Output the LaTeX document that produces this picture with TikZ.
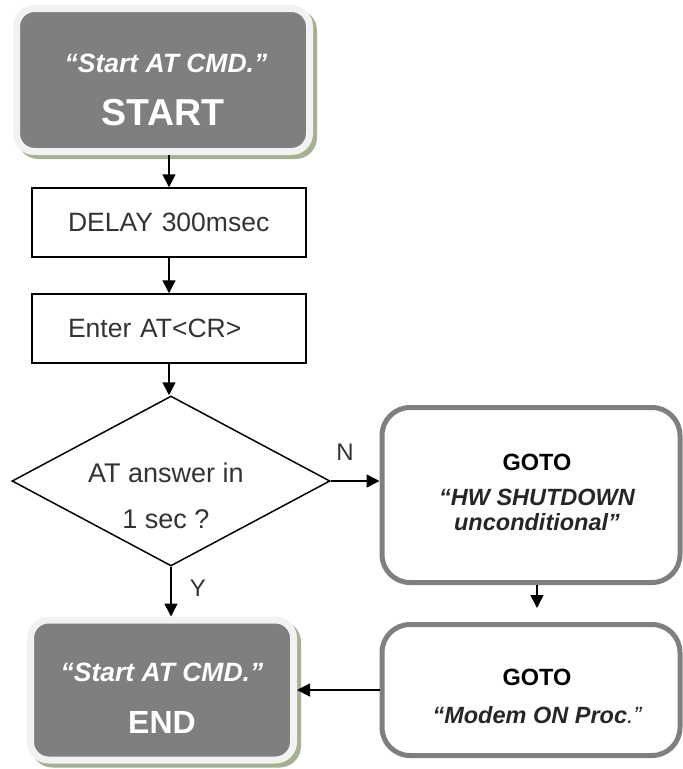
\documentclass[tikz,border=0pt]{standalone}
\usepackage{fontspec}
\setmainfont{Liberation Sans}
\usetikzlibrary{shapes.geometric,arrows.meta,calc}
\definecolor{boxgray}{RGB}{127,127,127}
\definecolor{rimcol}{RGB}{242,242,242}
\definecolor{shadowol}{RGB}{166,176,146}
\definecolor{txtgray}{RGB}{51,51,51}
\begin{document}
\begin{tikzpicture}[x=1pt,y=-1pt,
  term/.style={rectangle, rounded corners=18pt, fill=boxgray, draw=rimcol, line width=7pt,
    inner sep=0pt,
    preaction={fill=shadowol, draw=shadowol, line width=7pt, transform canvas={shift={(4pt,-4pt)}}}},
  proc/.style={rectangle, draw=black, line width=1.5pt, inner xsep=36pt, inner ysep=0pt,
    minimum height=69pt, text width=202pt, align=left, text=txtgray,
    font=\fontsize{26.5}{30}\selectfont},
  decis/.style={diamond, draw=black, line width=1.5pt, inner sep=0pt, aspect=1.87,
    minimum width=318pt, minimum height=170pt},
  gotobox/.style={rectangle, rounded corners=28pt, draw=boxgray, line width=5pt, inner sep=0pt},
  flow/.style={line width=1.5pt, -{Triangle[length=13pt,width=13pt]}},
  wtitle/.style={text=white, font=\fontsize{26.5}{30}\selectfont\bfseries\itshape},
  dtxt/.style={text=txtgray, font=\fontsize{27}{30}\selectfont},
  gbold/.style={text=black, font=\fontsize{23.5}{28}\selectfont\bfseries},
  gital/.style={text=black!85, font=\fontsize{23.5}{28}\selectfont\bfseries\itshape},
  lbl/.style={text=txtgray, font=\fontsize{24}{28}\selectfont}
]
\useasboundingbox (0,0) rectangle (683,769);

% shapes
\node[term, minimum width=293pt, minimum height=143pt] (start) at (163,80) {};
\node[proc] (delay) at (169,222.5) {DELAY 300msec};
\node[proc] (enter) at (169,328.5) {\raisebox{-4pt}{Enter AT<CR>}};
\node[decis] (dec) at (171,481) {};
\node[gotobox, minimum width=298pt, minimum height=175pt] (goto1) at (531,495) {};
\node[gotobox, minimum width=298pt, minimum height=131pt] (goto2) at (531,690) {};
\node[term, minimum width=263pt, minimum height=140pt] (endb) at (162,690) {};

% texts
\node[wtitle] (s1) at (166,63) {“Start AT CMD.”};
\node[text=white, font=\fontsize{37.5}{40}\selectfont\bfseries] (s2) at (163,113) {START};
\node[dtxt] (d1) at (166,473) {AT answer in};
\node[dtxt] (d2) at (166,519) {1 sec ?};
\node[gbold] (g1) at (537,462) {GOTO};
\node[gital] (g2) at (537,497) {“HW SHUTDOWN};
\node[gital] (g3) at (537,522) {unconditional”};
\node[wtitle] (e1) at (162,672) {“Start AT CMD.”};
\node[text=white, font=\fontsize{32}{36}\selectfont\bfseries] (e2) at (162,722) {END};
\node[gbold] (h1) at (537,677) {GOTO};
\node[gital] (h2) at (537,715) {“Modem ON Proc\textmd{.”}};
\node[lbl] (nl) at (345,452) {N};
\node[lbl] (yl) at (198,588) {Y};

% connectors
\coordinate (gx) at (537,0);
\draw[flow] (start.south -| delay.north) -- (delay.north);
\draw[flow] (delay.south) -- (enter.north);
\draw[flow] (enter.south) -- (enter.south |- dec.north);
\draw[flow] (dec.east) -- (dec.east -| goto1.west);
\draw[flow, shorten >=14pt] (goto1.south -| gx) -- (goto2.north -| gx);
\draw[flow] (goto2.west) -- (endb.east);
\draw[flow] (dec.south) -- (dec.south |- endb.north);
\end{tikzpicture}
\end{document}
